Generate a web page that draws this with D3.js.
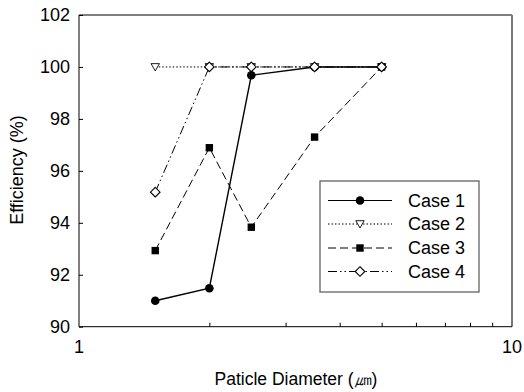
<!DOCTYPE html>
<html>
<head>
<meta charset="utf-8">
<script src="https://cdn.jsdelivr.net/npm/d3@7"></script>
<style>
  body { margin: 0; background: #fff; }
  text { font-family: Arial, "Liberation Sans", sans-serif; fill: #000; }
</style>
</head>
<body>
<svg id="chart" width="524" height="392"></svg>
<script>
const diameters = [1.5, 2, 2.5, 3.5, 5];
const seriesNames = ["Case 1", "Case 2", "Case 3", "Case 4"];
const case1 = [91.0, 91.48, 99.68, 100, 100];
const case2 = [100, 100, 100, 100, 100];
const case3 = [92.93, 96.89, 93.83, 97.3, 100];
const case4 = [95.18, 100, 100, 100, 100];
const yTicks = [90, 92, 94, 96, 98, 100, 102];
const xTickLabels = [1, 10];

const seriesValues = [case1, case2, case3, case4];
const styles = [
  { dash: null, marker: "circle", fill: "#000" },
  { dash: "1.5,2", marker: "triangle", fill: "#fff" },
  { dash: "8,4", marker: "square", fill: "#000" },
  { dash: "9,3,1.5,3,1.5,3", marker: "diamond", fill: "#fff" }
];

const svg = d3.select("#chart");
const m = { left: 79, right: 512, top: 15, bottom: 326.7 };
const x = d3.scaleLog().domain([1, 10]).range([m.left, m.right]);
const y = d3.scaleLinear().domain([90, 102]).range([m.bottom, m.top]);

// frame: top & right
svg.append("line").attr("x1", m.left).attr("x2", m.right).attr("y1", m.top).attr("y2", m.top)
  .attr("stroke", "#000").attr("stroke-width", 1.2);
svg.append("line").attr("x1", m.right).attr("x2", m.right).attr("y1", m.top).attr("y2", m.bottom)
  .attr("stroke", "#777").attr("stroke-width", 2);

// x axis with inward ticks
const minorTicks = d3.range(2, 10);
const xAxis = d3.axisBottom(x).tickValues(minorTicks).tickSize(-4).tickFormat("");
const gx = svg.append("g").attr("transform", `translate(0,${m.bottom})`).call(xAxis);
gx.select(".domain").attr("stroke", "#000").attr("d", `M${m.left},0H${m.right}`);
gx.selectAll(".tick line").attr("stroke", "#000");
svg.append("g").selectAll("text").data(xTickLabels).join("text")
  .attr("x", d => x(d)).attr("y", 353).attr("text-anchor", "middle")
  .attr("font-size", 18).text(d => d);

// y axis with inward ticks
const yAxis = d3.axisLeft(y).tickValues(yTicks).tickSize(-4).tickFormat("");
const gy = svg.append("g").attr("transform", `translate(${m.left},0)`).call(yAxis);
gy.select(".domain").attr("stroke", "#000").attr("d", `M0,${m.top}V${m.bottom}`);
gy.selectAll(".tick line").attr("stroke", "#000");
svg.append("g").selectAll("text").data(yTicks).join("text")
  .attr("x", 70).attr("y", d => y(d)).attr("dy", "0.36em").attr("text-anchor", "end")
  .attr("font-size", 18).text(d => d);

// axis titles
svg.append("text").attr("x", 296).attr("y", 385).attr("text-anchor", "middle")
  .attr("font-size", 17.5).text("Paticle Diameter (㎛)");
svg.append("text").attr("transform", "translate(23,170) rotate(-90)")
  .attr("text-anchor", "middle").attr("font-size", 18).text("Efficiency (%)");

function drawMarker(g, type, fill, cx, cy) {
  if (type === "circle") {
    g.append("circle").attr("cx", cx).attr("cy", cy).attr("r", 4.3).attr("fill", "#000");
  } else if (type === "square") {
    g.append("rect").attr("x", cx - 3.7).attr("y", cy - 3.7).attr("width", 7.4).attr("height", 7.4).attr("fill", "#000");
  } else if (type === "triangle") {
    g.append("path").attr("d", `M${cx - 4.2},${cy - 3.3}L${cx + 4.2},${cy - 3.3}L${cx},${cy + 4}Z`)
      .attr("fill", "#fff").attr("stroke", "#000").attr("stroke-width", 0.9);
  } else if (type === "diamond") {
    g.append("path").attr("d", `M${cx},${cy - 4.8}L${cx + 4.8},${cy}L${cx},${cy + 4.8}L${cx - 4.8},${cy}Z`)
      .attr("fill", "#fff").attr("stroke", "#000").attr("stroke-width", 1.1);
  }
}

const line = d3.line().x(d => x(d[0])).y(d => y(d[1]));
seriesValues.forEach((vals, i) => {
  const g = svg.append("g");
  const pts = diameters.map((d, j) => [d, vals[j]]);
  g.append("path").attr("d", line(pts)).attr("fill", "none").attr("stroke", "#000")
    .attr("stroke-width", i === 0 ? 1.4 : 1).attr("stroke-dasharray", styles[i].dash);
  pts.forEach(p => drawMarker(g, styles[i].marker, styles[i].fill, x(p[0]), y(p[1])));
});

// legend
const lg = svg.append("g");
lg.append("rect").attr("x", 320).attr("y", 181).attr("width", 159).attr("height", 111)
  .attr("fill", "#fff").attr("stroke", "#555").attr("stroke-width", 1.2);
const rowY = [200.5, 224, 248, 271.5];
seriesNames.forEach((name, i) => {
  lg.append("line").attr("x1", 328).attr("x2", 392).attr("y1", rowY[i]).attr("y2", rowY[i])
    .attr("stroke", "#000").attr("stroke-width", i === 0 ? 1.2 : 1).attr("stroke-dasharray", styles[i].dash);
  drawMarker(lg, styles[i].marker, styles[i].fill, 360, rowY[i]);
  lg.append("text").attr("x", 408).attr("y", rowY[i]).attr("dy", "0.36em")
    .attr("font-size", 18).text(name);
});
</script>
</body>
</html>
